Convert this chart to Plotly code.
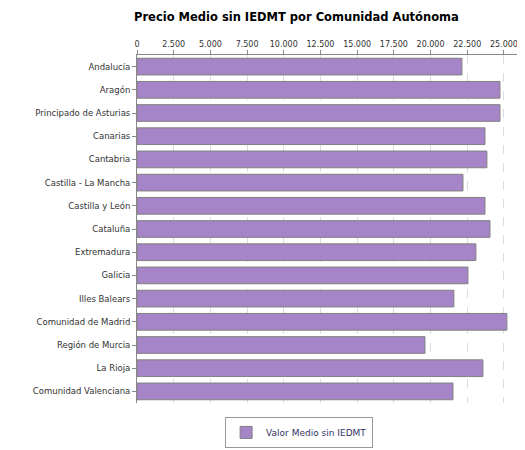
import plotly.graph_objects as go

categories = ["Andalucía", "Aragón", "Principado de Asturias", "Canarias", "Cantabria",
              "Castilla - La Mancha", "Castilla y León", "Cataluña", "Extremadura", "Galicia",
              "Illes Balears", "Comunidad de Madrid", "Región de Murcia", "La Rioja",
              "Comunidad Valenciana"]
values = [22140, 24730, 24730, 23710, 23840, 22210, 23710, 24050, 23090, 22550,
          21590, 25200, 19620, 23570, 21530]
tick_vals = [0, 2500, 5000, 7500, 10000, 12500, 15000, 17500, 20000, 22500, 25000]
tick_text = ["0", "2.500", "5.000", "7.500", "10.000", "12.500", "15.000", "17.500",
             "20.000", "22.500", "25.000"]

fig = go.Figure(go.Bar(
    y=categories, x=values, orientation="h", name="Valor Medio sin IEDMT",
    marker=dict(color="#a585c8", line=dict(color="#808080", width=1)),
    width=0.72, showlegend=True))

fig.update_layout(
    width=525, height=450, paper_bgcolor="white", plot_bgcolor="white",
    margin=dict(l=129, r=10, t=47, b=40),
    title=dict(text="<b>Precio Medio sin IEDMT por Comunidad Autónoma</b>", x=0.24, xanchor="left",
               y=0.99, yanchor="top", font=dict(family="DejaVu Sans", size=11.5, color="black")),
    font=dict(family="DejaVu Sans", size=9, color="#333333"),
    xaxis=dict(side="top", range=[0, 26300], tickvals=tick_vals, ticktext=tick_text,
               showgrid=True, gridcolor="#dddddd", griddash="dash", zeroline=False,
               showline=True, linecolor="#888888", ticks="outside", ticklen=4,
               tickcolor="#888888", tickfont=dict(size=8, color="#333333"), automargin=False),
    yaxis=dict(autorange="reversed", showline=True, linecolor="#888888",
               ticks="outside", ticklen=4, tickcolor="#888888", automargin=False,
               tickfont=dict(size=8.5, color="#333333"), range=[14.6, -0.6]),
    legend=dict(orientation="h", x=0.42, xanchor="center", y=-0.04, yanchor="top",
                bordercolor="#999999", borderwidth=1, itemwidth=30,
                font=dict(size=9, color="#333366")),
    bargap=0.28,
)
fig.write_html("out.html")
